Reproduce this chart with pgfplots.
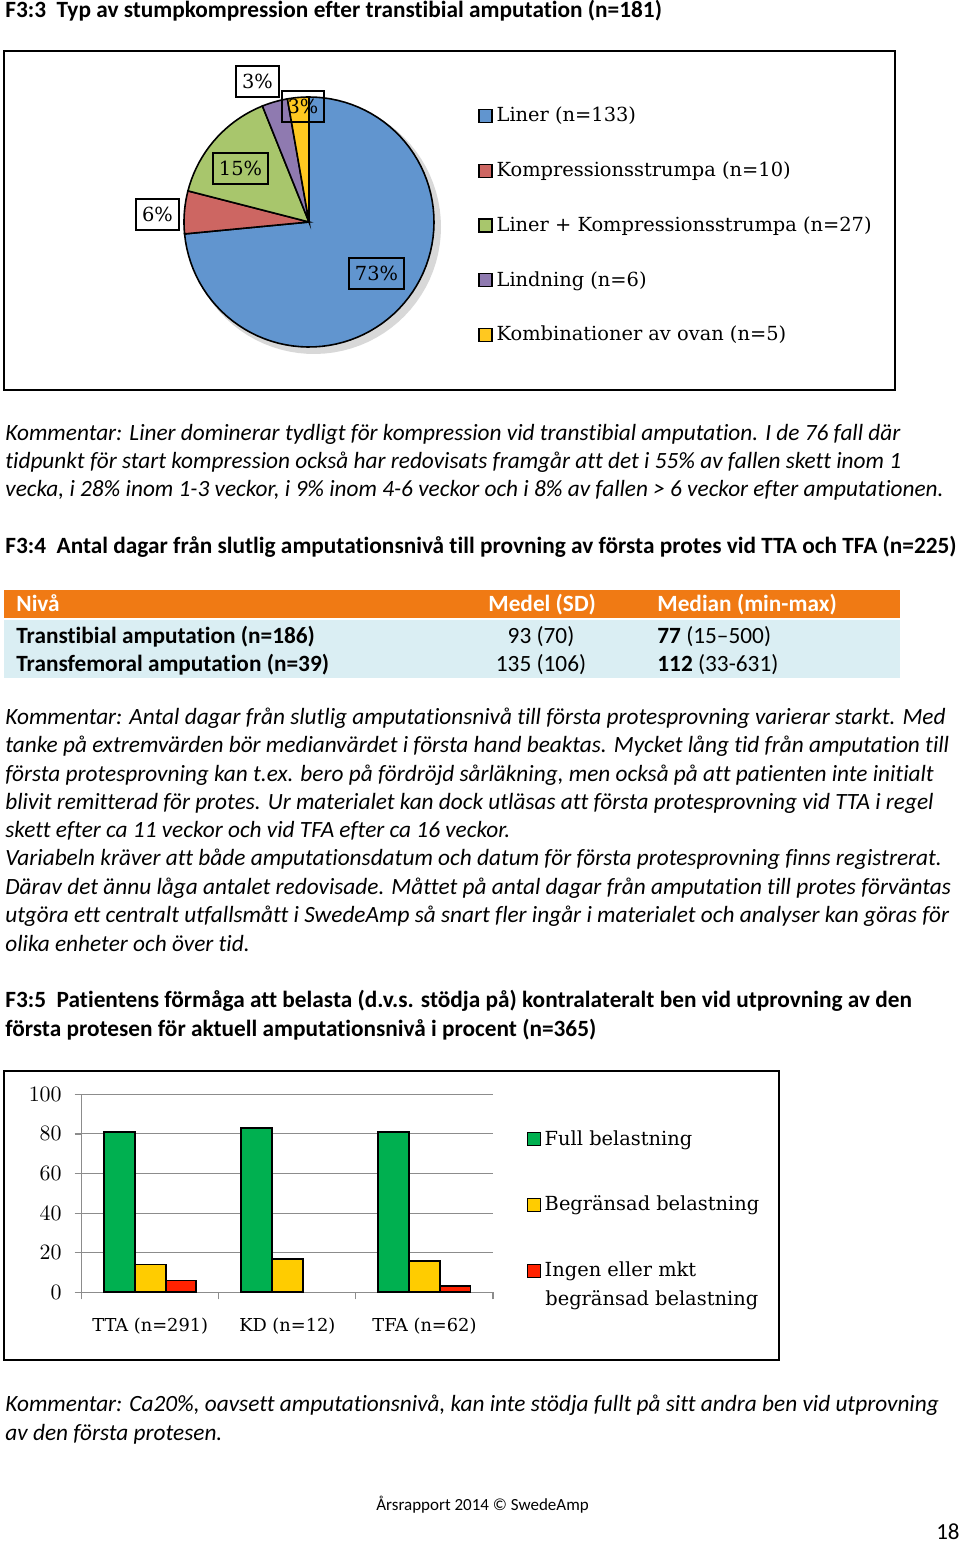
\documentclass[border=0pt]{standalone}
\usepackage{pgfplots}
\pgfplotsset{compat=1.18}
\usepackage{fontspec}
\setmainfont{Carlito}[Ligatures={TeX,NoCommon}]
\newfontfamily\serif{DejaVu Serif}
\definecolor{pieblue}{HTML}{6195CF}
\definecolor{piered}{HTML}{CD6662}
\definecolor{piegreen}{HTML}{A8C66C}
\definecolor{piepurple}{HTML}{8F7AB0}
\definecolor{pieyellow}{HTML}{FFC820}
\definecolor{tabor}{HTML}{F07A14}
\definecolor{tabbl}{HTML}{DAEEF3}
\definecolor{bargreen}{HTML}{00B050}
\definecolor{baryellow}{HTML}{FFCC00}
\definecolor{barred}{HTML}{FF2200}
\newcommand\body{\fontsize{11.65}{14}\selectfont}
\newcommand\chartfont{\serif\fontsize{9.7}{11}\selectfont}
% pie counts
\def\nA{133}\def\nB{10}\def\nC{27}\def\nD{6}\def\nE{5}\def\nT{181}
\pgfmathsetmacro\aA{90}
\pgfmathsetmacro\aB{\aA-\nA/\nT*360}
\pgfmathsetmacro\aC{\aB-\nB/\nT*360}
\pgfmathsetmacro\aD{\aC-\nC/\nT*360}
\pgfmathsetmacro\aE{\aD-\nD/\nT*360}
\pgfmathsetmacro\aF{\aE-\nE/\nT*360}
\begin{document}
\begin{tikzpicture}[x=0.5pt,y=0.5pt]
\useasboundingbox (0,0) rectangle (960,-1542);
\coordinate (pieorigin) at (4,-390);
\coordinate (barorigin) at (81.7,-1292.3);
% ---------- F3:3 ----------
\node[anchor=base west,inner sep=0] at (5,-18) {\body\bfseries F3:3\ \ Typ av stumpkompression efter transtibial amputation (n=181)};
\draw[line width=0.8pt] (4,-51) rectangle (895,-390);
\begin{axis}[at={(pieorigin)},anchor=south west,scale only axis,width=445.5pt,height=169.5pt,
  xmin=4,xmax=895,ymin=-390,ymax=-51,hide axis,clip=false,
  legend style={draw=none,fill=none,at={(0.532,0.4853)},anchor=west,font=\chartfont,
    row sep=14.5pt,inner sep=0pt,nodes={inner sep=2pt}},
  legend cell align=left,
  legend image code/.code={\draw[#1,line width=0.6pt] (0pt,-3.25pt) rectangle (6.5pt,3.25pt);}]
\fill[black!30,opacity=0.5] (314,-227) -- plot[domain=0:360,samples=90] ({314+127*cos(\x)},{-227+127*sin(\x)}) -- cycle;
\filldraw[fill=pieblue,draw=black,line width=0.8pt] (309,-222) -- plot[domain=\aB:\aA,samples=80] ({309+125*cos(\x)},{-222+125*sin(\x)}) -- cycle;
\filldraw[fill=piered,draw=black,line width=0.8pt] (309,-222) -- plot[domain=\aC:\aB,samples=10] ({309+125*cos(\x)},{-222+125*sin(\x)}) -- cycle;
\filldraw[fill=piegreen,draw=black,line width=0.8pt] (309,-222) -- plot[domain=\aD:\aC,samples=20] ({309+125*cos(\x)},{-222+125*sin(\x)}) -- cycle;
\filldraw[fill=piepurple,draw=black,line width=0.8pt] (309,-222) -- plot[domain=\aE:\aD,samples=8] ({309+125*cos(\x)},{-222+125*sin(\x)}) -- cycle;
\filldraw[fill=pieyellow,draw=black,line width=0.8pt] (309,-222) -- plot[domain=\aF:\aE,samples=8] ({309+125*cos(\x)},{-222+125*sin(\x)}) -- cycle;
\addlegendimage{fill=pieblue,draw=black}\addlegendentry{Liner (n=133)}
\addlegendimage{fill=piered,draw=black}\addlegendentry{Kompressionsstrumpa (n=10)}
\addlegendimage{fill=piegreen,draw=black}\addlegendentry{Liner + Kompressionsstrumpa (n=27)}
\addlegendimage{fill=piepurple,draw=black}\addlegendentry{Lindning (n=6)}
\addlegendimage{fill=pieyellow,draw=black}\addlegendentry{Kombinationer av ovan (n=5)}
\end{axis}
\tikzset{pl/.style={draw,line width=0.6pt,font=\chartfont,inner sep=0,minimum height=15.5pt}}
\node[pl,fill=white,minimum width=21.5pt] at (257.5,-81.5) {3\%};
\node[pl,minimum width=21pt] at (303,-106.5) {3\%};
\node[pl,minimum width=27.5pt] at (240.5,-168.5) {15\%};
\node[pl,fill=white,minimum width=21.5pt] at (157.5,-214.5) {6\%};
\node[pl,minimum width=27.5pt] at (376.5,-273.5) {73\%};
% comment 1
\begin{scope}[every node/.style={anchor=base west,inner sep=0,font=\body\itshape}]
\node at (5,-440) {Kommentar: Liner dominerar tydligt för kompression vid transtibial amputation. I de 76 fall där};
\node at (5,-468) {tidpunkt för start kompression också har redovisats framgår att det i 55\% av fallen skett inom 1};
\node at (5,-496) {vecka, i 28\% inom 1-3 veckor, i 9\% inom 4-6 veckor och i 8\% av fallen > 6 veckor efter amputationen.};
\end{scope}
% ---------- F3:4 ----------
\node[anchor=base west,inner sep=0] at (5,-553) {\body\bfseries F3:4\ \ Antal dagar från slutlig amputationsnivå till provning av första protes vid TTA och TFA (n=225)};
\fill[tabor] (4,-590) rectangle (900,-618);
\fill[tabbl] (4,-620) rectangle (900,-678);
\begin{scope}[every node/.style={anchor=base west,inner sep=0,font=\body}]
\node[text=white,font=\body\bfseries] at (16,-611) {Nivå};
\node[text=white,font=\body\bfseries] at (488,-611) {Medel (SD)};
\node[text=white,font=\body\bfseries] at (657,-611) {Median (min-max)};
\node[font=\body\bfseries] at (16,-643) {Transtibial amputation (n=186)};
\node[anchor=base] at (541,-643) {93 (70)};
\node at (657,-643) {\textbf{77} (15–500)};
\node[font=\body\bfseries] at (16,-671) {Transfemoral amputation (n=39)};
\node[anchor=base] at (541,-671) {135 (106)};
\node at (657,-671) {\textbf{112} (33-631)};
\end{scope}
\begin{scope}[every node/.style={anchor=base west,inner sep=0,font=\body\itshape}]
\node at (5,-724) {Kommentar: Antal dagar från slutlig amputationsnivå till första protesprovning varierar starkt. Med};
\node at (5,-752) {tanke på extremvärden bör medianvärdet i första hand beaktas. Mycket lång tid från amputation till};
\node at (5,-781) {första protesprovning kan t.ex. bero på fördröjd sårläkning, men också på att patienten inte initialt};
\node at (5,-809) {blivit remitterad för protes. Ur materialet kan dock utläsas att första protesprovning vid TTA i regel};
\node at (5,-837) {skett efter ca 11 veckor och vid TFA efter ca 16 veckor.};
\node at (5,-865) {Variabeln kräver att både amputationsdatum och datum för första protesprovning finns registrerat.};
\node at (5,-894) {Därav det ännu låga antalet redovisade. Måttet på antal dagar från amputation till protes förväntas};
\node at (5,-922) {utgöra ett centralt utfallsmått i SwedeAmp så snart fler ingår i materialet och analyser kan göras för};
\node at (5,-951) {olika enheter och över tid.};
\end{scope}
% ---------- F3:5 ----------
\begin{scope}[every node/.style={anchor=base west,inner sep=0,font=\body\bfseries}]
\node at (5,-1007) {F3:5\ \ Patientens förmåga att belasta (d.v.s. stödja på) kontralateralt ben vid utprovning av den};
\node at (5,-1036) {första protesen för aktuell amputationsnivå i procent (n=365)};
\end{scope}
\draw[line width=0.8pt] (4,-1071) rectangle (779,-1360);
\begin{axis}[at={(barorigin)},anchor=south west,scale only axis,width=205.65pt,height=99pt,
  ybar=0pt,bar width=15.35pt,xmin=0,xmax=3,ymin=0,ymax=100,
  ytick={0,20,40,60,80,100},xtick={0,1,2,3},xticklabels={},
  extra x ticks={0.5,1.5,2.5},extra x tick labels={TTA (n=291),KD (n=12),TFA (n=62)},
  extra x tick style={major tick length=0pt,xticklabel style={yshift=-9.5pt,font=\serif\fontsize{8.9}{11}\selectfont}},
  ymajorgrids,grid style={draw=gray!90,line width=0.5pt},
  axis lines*=left,axis line style={draw=gray!90,line width=0.6pt},
  tick align=outside,major tick length=3.5pt,tick style={draw=gray!90,line width=0.6pt},
  tick label style={font=\chartfont},
  yticklabel style={xshift=-3pt,font=\serif\fontsize{10.6}{12}\selectfont},
  legend style={draw=none,fill=none,at={(1.0806,0.84)},anchor=north west,font=\chartfont,
    row sep=20pt,inner sep=0pt,nodes={inner sep=2pt}},
  legend cell align=left,
  legend image code/.code={\draw[#1,line width=0.6pt] (0pt,-3.25pt) rectangle (6.5pt,3.25pt);}]
\addplot[fill=bargreen,draw=black,line width=0.9pt] coordinates {(0.5,81) (1.5,83) (2.5,81)};
\addplot[fill=baryellow,draw=black,line width=0.9pt] coordinates {(0.5,14) (1.5,17) (2.5,16)};
\addplot[fill=barred,draw=black,line width=0.9pt] coordinates {(0.5,6) (2.5,3)};
\legend{Full belastning,Begränsad belastning,Ingen eller mkt}
\end{axis}
\node[anchor=base west,inner sep=0,font=\chartfont] at (545,-1305) {begränsad belastning};
\begin{scope}[every node/.style={anchor=base west,inner sep=0,font=\body\itshape}]
\node at (5,-1411) {Kommentar: Ca20\%, oavsett amputationsnivå, kan inte stödja fullt på sitt andra ben vid utprovning};
\node at (5,-1440) {av den första protesen.};
\end{scope}
\node[anchor=base west,inner sep=0,font=\fontsize{8.5}{10}\selectfont] at (376,-1510) {Årsrapport 2014 © SwedeAmp};
\node[anchor=base east,inner sep=0,font=\fontsize{11.5}{13}\selectfont] at (960,-1539) {18};
\end{tikzpicture}
\end{document}
